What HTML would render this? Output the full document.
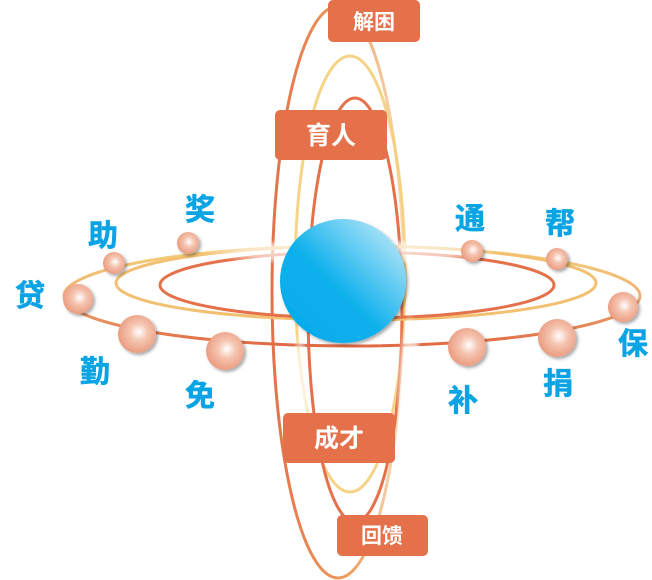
<!DOCTYPE html>
<html><head><meta charset="utf-8"><style>
html,body{margin:0;padding:0;background:#fff;width:652px;height:580px;overflow:hidden}
svg{display:block}
.l{font-family:"Liberation Sans","Noto Sans CJK SC",sans-serif;font-weight:bold;fill:#0aa4e4;font-size:30px;text-anchor:middle;stroke:#0aa4e4;stroke-width:0.6}
.b{font-family:"Liberation Sans","Noto Sans CJK SC",sans-serif;font-weight:bold;fill:#fff;text-anchor:middle}
</style></head><body>
<svg width="652" height="580" viewBox="0 0 652 580">
<defs>
<radialGradient id="ball" cx="0.55" cy="0.45" r="0.6">
<stop offset="0" stop-color="#fff"/><stop offset="0.4" stop-color="#f5c4b0"/><stop offset="1" stop-color="#e9977a"/>
</radialGradient>
<linearGradient id="sph" x1="1" y1="0" x2="0" y2="1">
<stop offset="0" stop-color="#d4f0fb"/><stop offset="0.55" stop-color="#10b1ec"/><stop offset="1" stop-color="#00a9ea"/>
</linearGradient>
<linearGradient id="hg" x1="0" y1="0" x2="0" y2="1">
<stop offset="0" stop-color="#f2d27a"/><stop offset="0.5" stop-color="#f0b070"/><stop offset="1" stop-color="#e06a45"/>
</linearGradient>
<linearGradient id="vg" x1="0" y1="0" x2="1" y2="0">
<stop offset="0" stop-color="#e5714a"/><stop offset="0.6" stop-color="#eea060"/><stop offset="1" stop-color="#f7e0c0"/>
</linearGradient>
<radialGradient id="fade" cx="0.5" cy="0.5" r="0.5">
<stop offset="0" stop-color="#fff" stop-opacity="0.85"/><stop offset="0.7" stop-color="#fff" stop-opacity="0.6"/><stop offset="1" stop-color="#fff" stop-opacity="0"/>
</radialGradient>
<filter id="sh"><feDropShadow dx="2" dy="2" stdDeviation="1.5" flood-color="#000" flood-opacity="0.35"/></filter>
</defs>
<!-- vertical ellipses -->
<ellipse cx="338" cy="292" rx="66" ry="286" fill="none" stroke="url(#vg)" stroke-width="3"/>
<ellipse cx="350" cy="274" rx="55" ry="218" fill="none" stroke="#f4cf7a" stroke-width="3" opacity="0.9"/>
<ellipse cx="355" cy="310" rx="47" ry="212" fill="none" stroke="#e5714a" stroke-width="3"/>
<!-- horizontal ellipses -->
<ellipse cx="352" cy="296" rx="288" ry="50" fill="none" stroke="url(#hg)" stroke-width="3"/>
<ellipse cx="356" cy="283" rx="240" ry="37" fill="none" stroke="#f2c070" stroke-width="3"/>
<ellipse cx="357" cy="285" rx="197" ry="33" fill="none" stroke="#e5714a" stroke-width="3"/>
<!-- fade back portions -->
<ellipse cx="350" cy="252" rx="150" ry="14" fill="url(#fade)"/>
<ellipse cx="410" cy="400" rx="14" ry="90" fill="url(#fade)"/>
<ellipse cx="300" cy="400" rx="10" ry="70" fill="url(#fade)"/>
<!-- sphere -->
<ellipse cx="343" cy="281" rx="63" ry="62" fill="url(#sph)" filter="url(#sh)"/>
<!-- balls -->
<g fill="url(#ball)" filter="url(#sh)">
<circle cx="188" cy="243" r="11"/><circle cx="114" cy="263" r="11"/><circle cx="78" cy="299" r="15"/>
<circle cx="137" cy="334" r="19"/><circle cx="225" cy="351" r="19"/>
<circle cx="472" cy="251" r="11"/><circle cx="557" cy="259" r="11"/><circle cx="623" cy="307" r="15"/>
<circle cx="557" cy="338" r="19"/><circle cx="467" cy="347" r="19"/>
</g>
<text class="l" x="200" y="220">奖</text><text class="l" x="103" y="246">助</text>
<text class="l" x="30" y="306">贷</text><text class="l" x="95" y="382">勤</text>
<text class="l" x="200" y="406">免</text><text class="l" x="470" y="229">通</text>
<text class="l" x="560" y="234">帮</text><text class="l" x="633" y="354">保</text>
<text class="l" x="558" y="394">捐</text><text class="l" x="463" y="411">补</text>
<!-- boxes -->
<g fill="#e5714a">
<rect x="328" y="0" width="92" height="42" rx="5"/>
<rect x="275" y="110" width="112" height="50" rx="5"/>
<rect x="283" y="413" width="112" height="50" rx="5"/>
<rect x="337" y="515" width="91" height="41" rx="5"/>
</g>
<text class="b" x="374" y="29" font-size="21">解困</text>
<text class="b" x="331" y="144" font-size="25">育人</text>
<text class="b" x="339" y="447" font-size="25">成才</text>
<text class="b" x="382" y="543" font-size="21">回馈</text>
</svg>
</body></html>
